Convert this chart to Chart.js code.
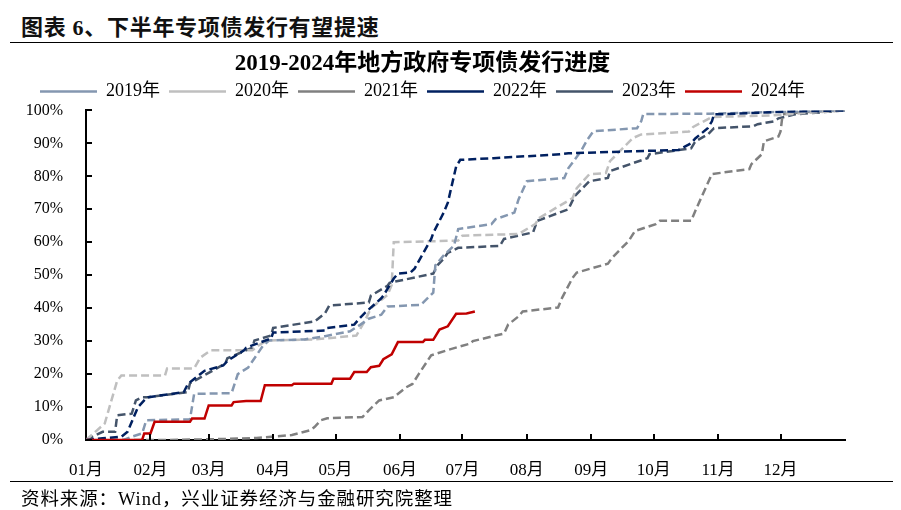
<!DOCTYPE html>
<html>
<head>
<meta charset="utf-8">
<script src="https://cdn.jsdelivr.net/npm/chart.js@4.4.1/dist/chart.umd.min.js"></script>
<style>
  body { margin: 0; background: #fff; }
  #wrap { position: relative; width: 901px; height: 510px; overflow: hidden; background: #fff; }
  #head { position: absolute; left: 21px; top: 9px; line-height: 26px; font: bold 22px "Liberation Serif", "Noto Sans CJK SC"; letter-spacing: 0.7px; color: #111; white-space: nowrap; }
  .rule { position: absolute; left: 10px; width: 883px; height: 0; border-top: 1.5px solid #000; }
  #foot { position: absolute; left: 21px; top: 484px; line-height: 22px; font: 18.5px "Liberation Serif", "Noto Sans CJK SC"; letter-spacing: 0.9px; color: #000; white-space: nowrap; }
  canvas { position: absolute; left: 0; top: 0; }
</style>
</head>
<body>
<div id="wrap">
  <div id="head">图表 6、下半年专项债发行有望提速</div>
  <div class="rule" style="top:42px"></div>
  <canvas id="myChart" width="901" height="510"></canvas>
  <div class="rule" style="top:481px"></div>
  <div id="foot">资料来源：Wind，兴业证券经济与金融研究院整理</div>
</div>
<script>
// x = day of year, y = cumulative issuance progress (%)
var monthStarts = [0, 31, 59, 90, 120, 151, 181, 212, 243, 273, 304, 334];
var monthLabels = ['01月', '02月', '03月', '04月', '05月', '06月', '07月', '08月', '09月', '10月', '11月', '12月'];
var yearLabels = ['2019年', '2020年', '2021年', '2022年', '2023年', '2024年'];

var s2019 = [[0,0],[18,0],[22,1],[27,2],[29,6],[50,6.3],[52,14],[70,14.2],[73,20],[78,22],[85,28.5],[88,30.2],[105,30.5],[115,31.5],[127,33],[132,35],[136,36.8],[142,38],[145,40.5],[161,41],[167,44.7],[168,53],[172,56],[177,59],[179,64],[195,65.5],[197,67],[206,69],[208,73],[212,78.5],[230,79.5],[232,82.5],[238,87.6],[241,91],[244,93.7],[265,94.6],[267,96.7],[268,98.9],[300,99],[330,99.5],[365,100]];
var s2020 = [[0,0],[9,5],[15,18],[17,19.6],[38,19.6],[39,21.7],[52,21.7],[55,25],[60,27.2],[80,27.2],[83,28.7],[87,30.2],[110,30.5],[130,31.7],[134,36],[137,40],[141,42],[145,44],[147,47],[148,60],[179,60.5],[181,62],[208,62.5],[216,65.5],[218,67.4],[234,73.4],[236,76.4],[242,80.6],[250,81],[252,84.6],[263,91.6],[267,92.7],[290,93.6],[292,95],[301,98],[330,98.5],[365,100]];
var s2021 = [[0,0],[40,0],[65,0.3],[82,0.6],[99,1.5],[108,3],[110,4],[113,6],[116,6.6],[133,7],[136,9],[141,12],[148,13],[154,16],[157,17],[160,20],[166,25.7],[175,27.5],[185,29.3],[186,30],[201,32.3],[203,35],[208,37.5],[210,39],[227,40.2],[229,43.2],[234,49.2],[236,50.8],[251,53.5],[253,55.3],[261,60.4],[264,63.4],[274,65.5],[276,66.5],[291,66.5],[293,69.5],[301,80.7],[319,82.2],[320,83.7],[325,86.7],[326,90.6],[333,92.1],[334,93.6],[335,98.8],[345,99.5],[365,100]];
var s2022 = [[0,0],[8,0.5],[17,1],[20,2.5],[23,7],[25,10],[29,12.7],[30,13],[47,14.5],[49,17],[57,21],[66,22.6],[68,24],[76,27.2],[77,28],[89,30.8],[90,32.6],[115,33.2],[116,34],[129,35],[131,36.5],[134,38.5],[142,43],[143,43.8],[148,49],[150,50.5],[156,50.8],[158,52],[166,61],[167,62.8],[172,69],[174,72],[178,83],[180,85],[196,85.5],[228,86.7],[232,87],[285,88],[291,90],[293,91.5],[299,94.6],[301,96.7],[302,98.8],[304,98.8],[340,99.7],[365,100]];
var s2023 = [[0,0],[8,2.5],[14,2.5],[15,7.5],[22,8],[24,12],[27,13],[30,13],[49,14.5],[50,17.2],[67,23.2],[68,24.8],[80,28],[81,30.2],[89,31.7],[90,34],[100,35],[110,36],[115,38.5],[117,40.8],[136,41.7],[137,43.8],[145,46.8],[146,47.7],[167,50.5],[169,53],[172,55],[174,56.8],[179,58.3],[199,58.9],[201,61],[215,63],[217,66.5],[232,70],[235,74],[242,78.5],[251,79.5],[252,81.6],[270,85.5],[271,86.7],[291,88.5],[293,90.6],[299,92.7],[302,94.6],[321,95.2],[323,95.8],[331,96.7],[333,97.6],[341,98.8],[365,100]];
var s2024 = [[0,0],[27,0],[28,2],[31,2],[33,5.5],[50,5.5],[51,6.5],[57,6.5],[59,10.5],[70,10.5],[71,11.5],[77,11.8],[84,11.8],[86,16.6],[99,16.6],[100,17.1],[118,17.1],[119,18.6],[127,18.6],[129,20.6],[135,20.6],[137,22.1],[141,22.5],[143,24.5],[147,26],[150,29.7],[162,29.7],[163,30.4],[167,30.4],[170,33.5],[174,34.5],[178,38.3],[183,38.4],[187,39]];

var seriesList = [s2019, s2020, s2021, s2022, s2023, s2024];
var lineColors = ['#8497B0', '#BFBFBF', '#808080', '#002060', '#44546A', '#C00000'];

Chart.defaults.font.family = "'Liberation Serif', 'Noto Sans CJK SC', serif";
Chart.defaults.color = '#000';

// small tick marks pointing into the plot
var innerTicks = {
  id: 'innerTicks',
  afterDraw: function (chart) {
    var ctx = chart.ctx;
    var area = chart.chartArea;
    var xs = chart.scales.x;
    var ys = chart.scales.y;
    ctx.save();
    ctx.strokeStyle = '#000';
    ctx.lineWidth = 2;
    ctx.beginPath();
    ys.ticks.forEach(function (t) {
      var py = Math.round(ys.getPixelForValue(t.value));
      ctx.moveTo(area.left, py);
      ctx.lineTo(area.left + 6, py);
    });
    xs.ticks.forEach(function (t) {
      if (t.value === 0) return;
      var px = Math.round(xs.getPixelForValue(t.value));
      ctx.moveTo(px, area.bottom);
      ctx.lineTo(px, area.bottom - 6);
    });
    ctx.stroke();
    ctx.restore();
  }
};

var datasets = seriesList.map(function (s, i) {
  return {
    label: yearLabels[i],
    data: s.map(function (p) { return { x: p[0], y: p[1] }; }),
    borderColor: lineColors[i],
    backgroundColor: lineColors[i],
    borderWidth: 2.5,
    borderDash: i === 5 ? [] : [8, 4],
    pointRadius: 0,
    fill: false,
    tension: 0,
    order: i === 5 ? 0 : (i === 3 ? 1 : 2)
  };
});

var ctx = document.getElementById('myChart').getContext('2d');
new Chart(ctx, {
  type: 'line',
  data: { datasets: datasets },
  options: {
    responsive: false,
    animation: false,
    layout: { padding: { top: 55, right: 56, bottom: 30, left: 0 } },
    plugins: {
      title: {
        display: true,
        text: '2019-2024年地方政府专项债发行进度',
        color: '#000',
        font: { size: 23, weight: 'bold', lineHeight: 0.8 },
        padding: { top: 0, bottom: 0 }
      },
      legend: {
        display: true,
        labels: {
          usePointStyle: true,
          pointStyle: 'line',
          pointStyleWidth: 57,
          padding: 9,
          color: '#000',
          font: { size: 18 },
          sort: function (a, b) { return a.datasetIndex - b.datasetIndex; }
        }
      },
      tooltip: { enabled: false }
    },
    scales: {
      x: {
        type: 'linear',
        min: 0,
        max: 365,
        grid: { display: false },
        border: { display: true, color: '#000', width: 2 },
        afterBuildTicks: function (scale) {
          scale.ticks = monthStarts.map(function (v) { return { value: v }; });
        },
        afterFit: function (scale) { scale.height = 40; },
        ticks: {
          autoSkip: false,
          maxRotation: 0,
          padding: 12,
          font: { size: 17 },
          callback: function (v, i) { return monthLabels[i]; }
        }
      },
      y: {
        min: 0,
        max: 100,
        grid: { display: false },
        border: { display: true, color: '#000', width: 2 },
        afterFit: function (scale) { scale.width = 86; },
        ticks: {
          stepSize: 10,
          padding: 15,
          font: { size: 16 },
          callback: function (v) { return v + '%'; }
        }
      }
    }
  },
  plugins: [innerTicks]
});
</script>
</body>
</html>
